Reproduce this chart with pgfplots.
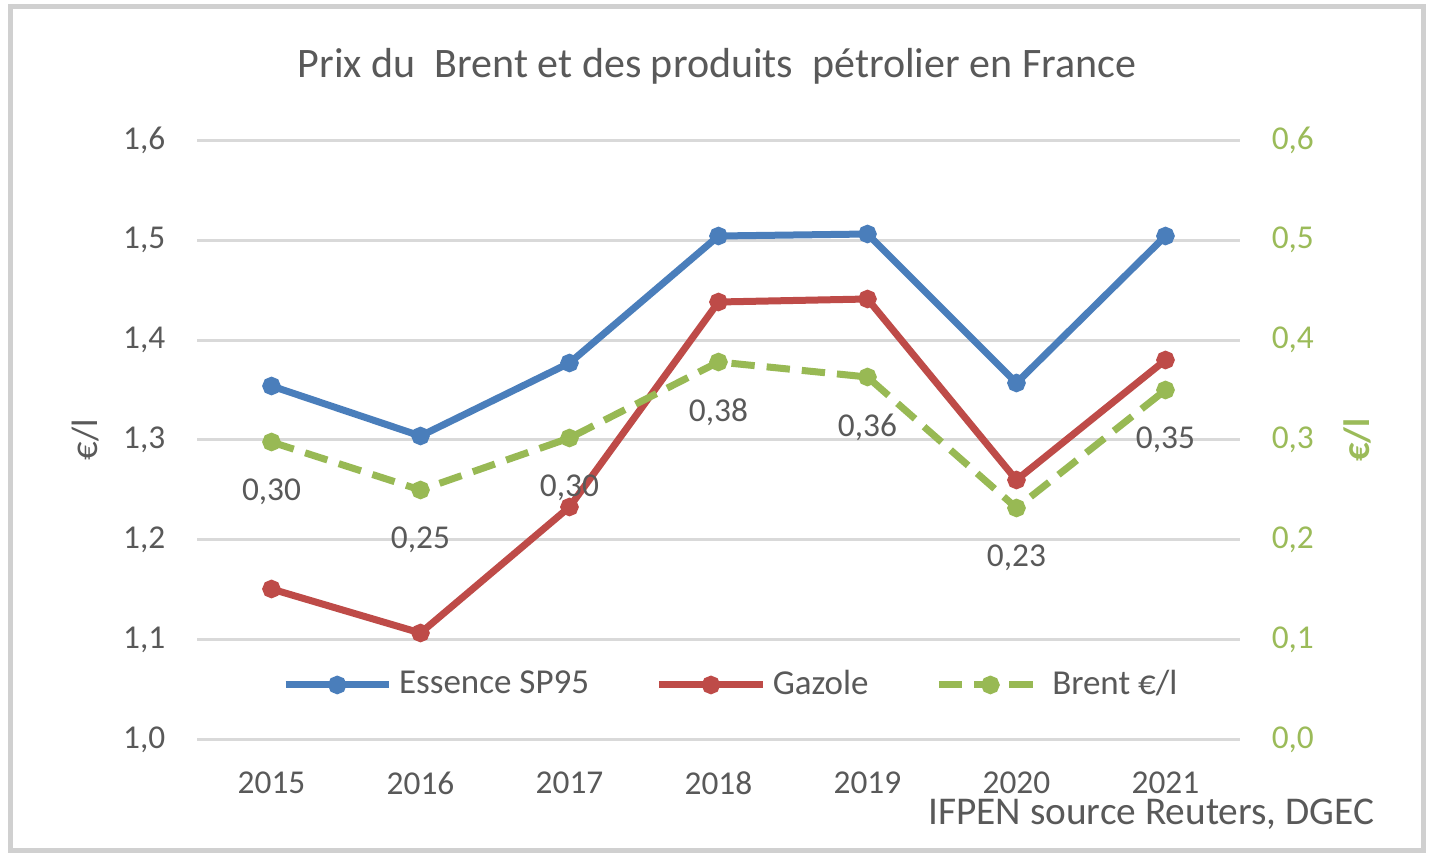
\documentclass[border=0pt]{standalone}
\usepackage{pgfplots}
\pgfplotsset{compat=1.18}
\usepackage{fontspec}
\setmainfont{Carlito}
\definecolor{cblue}{HTML}{4A7EBB}
\definecolor{cred}{HTML}{BE4B48}
\definecolor{cgreen}{HTML}{98B954}
\definecolor{ctext}{HTML}{595959}
\definecolor{cgrid}{HTML}{D9D9D9}
\definecolor{cgtext}{HTML}{9BBB59}
\definecolor{cframe}{HTML}{D0D0D0}

\pgfplotstableread{
x y
0 1.354
1 1.304
2 1.377
3 1.504
4 1.506
5 1.357
6 1.504
}\essence
\pgfplotstableread{
x y
0 1.151
1 1.107
2 1.233
3 1.438
4 1.441
5 1.260
6 1.380
}\gazole
\pgfplotstableread{
x y lab
0 0.298 0,30
1 0.250 0,25
2 0.302 0,30
3 0.378 0,38
4 0.363 0,36
5 0.232 0,23
6 0.350 0,35
}\brent

\begin{document}
\begin{tikzpicture}[x=0.3pt,y=0.3pt]
\fill[white] (0,0) rectangle (1432,855);
\draw[cframe, line width=1.5pt] (10,4) rectangle (1423,848);
\node[font=\fontsize{12.6}{15}\selectfont, text=ctext] at (717,789) {Prix du\ \ Brent et des produits\ \ pétrolier en France};
\node[font=\fontsize{11.8}{14}\selectfont, text=ctext, anchor=east] at (1386,41) {IFPEN source Reuters, DGEC};

\pgfplotsset{
  common/.style={
    at={(59.1pt,34.5pt)}, anchor=south west,
    scale only axis, width=312.9pt, height=180pt,
    xmin=-0.5, xmax=6.5,
    axis line style={draw=none},
    major tick length=0pt,
    clip=false,
    /pgf/number format/.cd, use comma, fixed, fixed zerofill, precision=1, assume math mode=true,
  },
}

\begin{axis}[common,
  ymin=1.0, ymax=1.6,
  ytick={1.0,1.1,1.2,1.3,1.4,1.5,1.6},
  xtick={0,1,2,3,4,5,6},
  xticklabels={2015,2016,2017,2018,2019,2020,2021},
  ymajorgrids, grid style={cgrid, line width=0.9pt},
  ticklabel style={font=\fontsize{10}{12}\selectfont, text=ctext},
  xticklabel style={yshift=-6pt},
  yticklabel style={xshift=-6pt},
  ylabel={€/l},
  ylabel style={at={(axis description cs:-0.107,0.5)}, anchor=center, font=\fontsize{11}{13}\selectfont, text=ctext},
]
\addplot[cblue, line width=2.1pt, mark=*, mark size=1.7pt] table[x=x,y=y] {\essence};
\addplot[cred, line width=2.1pt, mark=*, mark size=1.7pt] table[x=x,y=y] {\gazole};
\end{axis}

\begin{axis}[common,
  ymin=0, ymax=0.6,
  axis y line*=right,
  axis x line=none,
  ytick={0,0.1,0.2,0.3,0.4,0.5,0.6},
  yticklabel style={font=\fontsize{10}{12}\selectfont, text=cgtext, xshift=6pt},
  ylabel={€/l},
  ylabel style={at={(axis description cs:1.113,0.5)}, anchor=center, rotate=0, font=\fontsize{11}{13}\selectfont\bfseries, text=cgtext},
  legend style={at={(0.514,0.0917)}, anchor=center, draw=none, fill=none,
    legend columns=3, font=\fontsize{10.5}{12}\selectfont, text=ctext,
    /tikz/every even column/.append style={column sep=18pt}},
  legend image code/.code={\draw[mark repeat=2,mark phase=2,#1] plot coordinates {(0pt,0pt)(15.5pt,0pt)(31pt,0pt)};},
]
\addlegendimage{cblue, line width=2.1pt, mark=*, mark size=1.7pt}
\addlegendentry{Essence SP95}
\addlegendimage{cred, line width=2.1pt, mark=*, mark size=1.7pt}
\addlegendentry{Gazole}
\addplot[cgreen, line width=2.1pt, dash pattern=on 7pt off 3.6pt, mark=*, mark size=1.7pt, mark options={solid},
  point meta=explicit symbolic, nodes near coords,
  every node near coord/.append style={anchor=center, yshift=-15pt, font=\fontsize{10}{12}\selectfont, text=ctext}]
  table[x=x,y=y,meta=lab] {\brent};
\addlegendentry{Brent €/l}
\end{axis}
\end{tikzpicture}
\end{document}
